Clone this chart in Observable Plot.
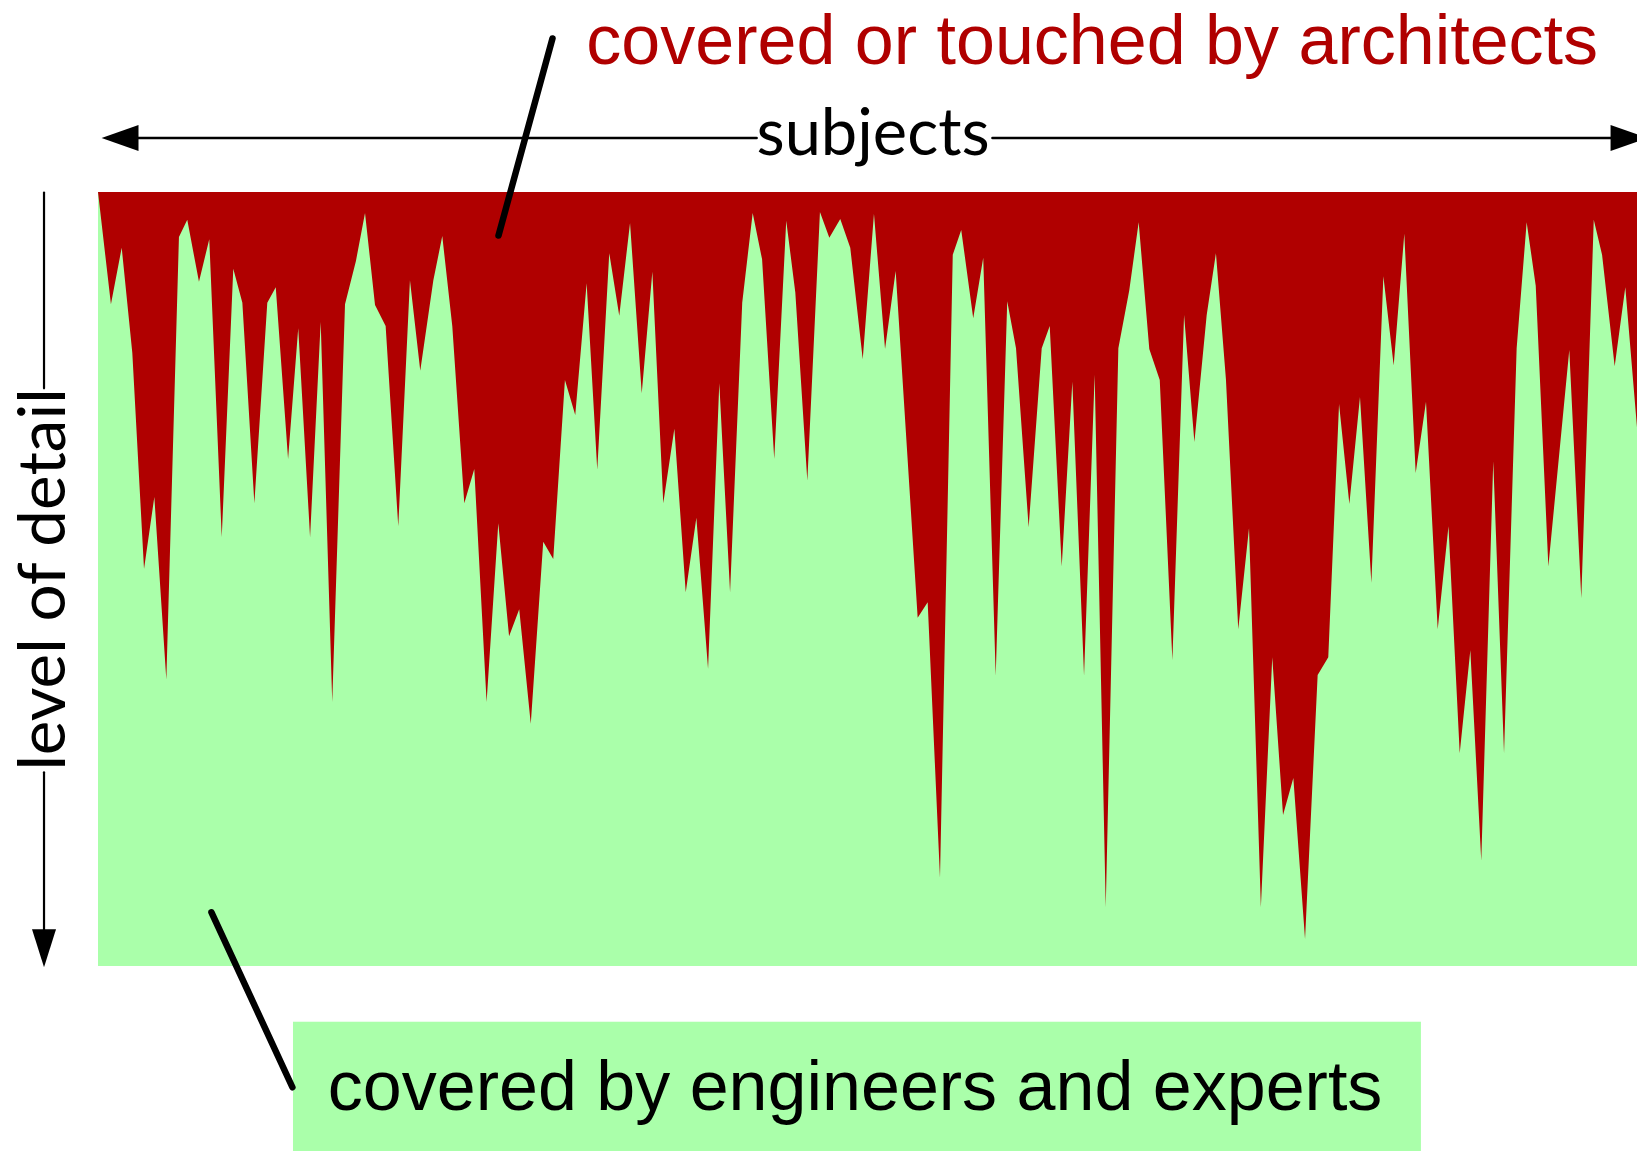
<!DOCTYPE html>
<html>
<head>
<meta charset="utf-8">
<script src="https://cdn.jsdelivr.net/npm/d3@7"></script>
<script src="https://cdn.jsdelivr.net/npm/@observablehq/plot@0.6"></script>
<style>
  html, body { margin: 0; padding: 0; background: #fff; overflow: hidden; }
  #chart svg { display: block; }
</style>
</head>
<body>
<div id="chart"></div>
<script>
// Subject position along the breadth (0–100 %) and depth of detail reached by architects (0 top – 100 bottom)
const subjectPos = [0,0.84,1.54,2.23,2.99,3.66,4.44,5.26,5.80,6.56,7.23,8.04,8.79,9.38,10.16,11.00,11.55,12.35,13.01,13.78,14.47,15.22,16.05,16.76,17.35,18.00,18.69,19.51,20.27,20.94,21.79,22.37,23.02,23.80,24.45,25.25,26.01,26.71,27.37,28.12,28.93,29.58,30.34,31.01,31.75,32.44,33.22,33.87,34.57,35.33,36.02,36.73,37.45,38.19,38.88,39.64,40.37,41.07,41.86,42.54,43.15,43.94,44.72,45.31,46.09,46.91,47.52,48.23,48.88,49.69,50.42,51.14,51.83,53.26,53.91,54.71,55.54,56.09,56.87,57.52,58.33,59.08,59.65,60.47,61.32,61.84,62.62,63.31,64.07,64.76,65.48,66.30,67.01,67.62,68.31,68.99,69.81,70.57,71.24,72.04,72.64,73.29,74.09,74.79,75.56,76.30,77.00,77.67,78.43,79.25,79.94,80.64,81.31,82.00,82.74,83.52,84.19,84.88,85.62,86.29,87.05,87.75,88.48,89.17,89.88,90.66,91.36,92.18,92.83,93.42,94.24,95.60,96.38,97.19,97.73,98.55,99.24,100];
const detailDepth = [0,14.5,7.2,20.8,48.7,39.4,63.0,5.8,3.6,11.6,6.1,44.6,9.9,14.3,40.2,14.3,12.3,34.5,17.6,44.6,16.8,65.9,14.5,8.9,2.7,14.6,17.3,43.2,11.4,23.1,11.4,5.7,17.3,40.2,35.8,65.9,42.8,57.4,53.9,68.7,45.2,47.4,24.3,28.8,11.8,35.9,7.9,16.0,4.0,26.0,10.3,40.2,30.6,51.7,42.1,61.6,24.7,51.7,14.3,2.7,8.7,34.5,3.7,13.0,37.3,2.6,5.9,3.5,7.2,21.6,2.8,20.3,10.2,55.0,53.0,88.6,8.1,4.9,16.3,8.5,62.5,14.1,20.2,43.3,20.2,17.3,48.4,24.5,62.5,23.6,92.4,20.2,12.7,3.9,20.3,24.3,60.5,15.9,32.3,15.9,7.9,24.2,56.5,43.4,92.4,60.1,80.5,75.7,96.5,62.4,60.1,27.4,40.3,26.5,50.5,10.9,22.4,5.4,36.3,27.1,56.5,43.2,72.5,59.2,86.4,34.8,72.5,20.2,3.9,12.1,48.4,20.4,52.5,3.6,8.1,22.5,12.3,30.4];

const labels = {
  architects: "covered or touched by architects",
  engineers: "covered by engineers and experts",
  xAxis: "subjects",
  yAxis: "level of detail"
};

const RED = "#b00000";
const GREEN = "#aaffaa";

const profile = subjectPos.map((x, i) => ({x, depth: detailDepth[i]}));

// Annotation geometry (data units)
const hArrowY = -7.04;
const hLeftSeg = [{x: 2.4, y: hArrowY}, {x: 42.76, y: hArrowY}];
const hRightSeg = [{x: 58.09, y: hArrowY}, {x: 98.4, y: hArrowY}];
const hLeftHead = [{x: 0.2, y: hArrowY}, {x: 2.6, y: hArrowY - 1.68}, {x: 2.6, y: hArrowY + 1.68}, {x: 0.2, y: hArrowY}];
const hRightHead = [{x: 100.65, y: hArrowY}, {x: 98.25, y: hArrowY - 1.68}, {x: 98.25, y: hArrowY + 1.68}, {x: 100.65, y: hArrowY}];

const vArrowX = -3.54;
const vTopSeg = [{x: vArrowX, y: 0}, {x: vArrowX, y: 25.3}];
const vBotSeg = [{x: vArrowX, y: 74.9}, {x: vArrowX, y: 95.4}];
const vHead = [{x: vArrowX, y: 100.1}, {x: vArrowX - 0.78, y: 95.2}, {x: vArrowX + 0.78, y: 95.2}, {x: vArrowX, y: 100.1}];

const leaders = [
  {x1: 29.5, y1: -19.9, x2: 25.99, y2: 5.56},
  {x1: 7.34, y1: 93.0, x2: 12.6, y2: 115.6}
];

const greenBox = [{x1: 12.67, x2: 85.96, y1: 107.2, y2: 125}];

const chart = Plot.plot({
  width: 1637,
  height: 1151,
  marginLeft: 98,
  marginRight: 0,
  marginTop: 192,
  marginBottom: 185,
  x: {domain: [0, 100], axis: null},
  y: {domain: [0, 100], reverse: true, axis: null},
  style: {background: "white"},
  marks: [
    // green: covered by engineers and experts (whole field)
    Plot.rect([{x1: 0, x2: 100, y1: 0, y2: 100}], {x1: "x1", x2: "x2", y1: "y1", y2: "y2", fill: GREEN}),
    // red: covered or touched by architects (from top down to the profile)
    Plot.areaY(profile, {x: "x", y1: 0, y2: "depth", fill: RED, curve: "linear"}),

    // horizontal "subjects" arrow
    Plot.line(hLeftSeg, {x: "x", y: "y", stroke: "black", strokeWidth: 2.6}),
    Plot.line(hRightSeg, {x: "x", y: "y", stroke: "black", strokeWidth: 2.6}),
    Plot.line(hLeftHead, {x: "x", y: "y", fill: "black", stroke: "none"}),
    Plot.line(hRightHead, {x: "x", y: "y", fill: "black", stroke: "none"}),
    Plot.text([labels.xAxis], {x: 50.33, y: -4.87, text: d => d, textAnchor: "middle", lineAnchor: "bottom",
      fontFamily: "Lato", fontSize: 65, fill: "black"}),

    // vertical "level of detail" arrow
    Plot.line(vTopSeg, {x: "x", y: "y", stroke: "black", strokeWidth: 2.2}),
    Plot.line(vBotSeg, {x: "x", y: "y", stroke: "black", strokeWidth: 2.2}),
    Plot.line(vHead, {x: "x", y: "y", fill: "black", stroke: "none"}),
    Plot.text([labels.yAxis], {x: -2.15, y: 50, text: d => d, textAnchor: "middle", lineAnchor: "bottom",
      rotate: -90, fontFamily: "Lato", fontSize: 65.5, fill: "black"}),

    // green label box
    Plot.rect(greenBox, {x1: "x1", x2: "x2", y1: "y1", y2: "y2", fill: GREEN}),
    Plot.text([labels.engineers], {x: 14.9, y: 118.6, text: d => d, textAnchor: "start", lineAnchor: "bottom",
      fontFamily: "Liberation Sans", fontSize: 70, fill: "black"}),

    // red label
    Plot.text([labels.architects], {x: 31.7, y: -16.55, text: d => d, textAnchor: "start", lineAnchor: "bottom",
      fontFamily: "Liberation Sans", fontSize: 70, fill: RED}),

    // leader lines
    Plot.link(leaders, {x1: "x1", y1: "y1", x2: "x2", y2: "y2", stroke: "black", strokeWidth: 6.5, strokeLinecap: "round"})
  ]
});

document.getElementById("chart").appendChild(chart);
</script>
</body>
</html>
